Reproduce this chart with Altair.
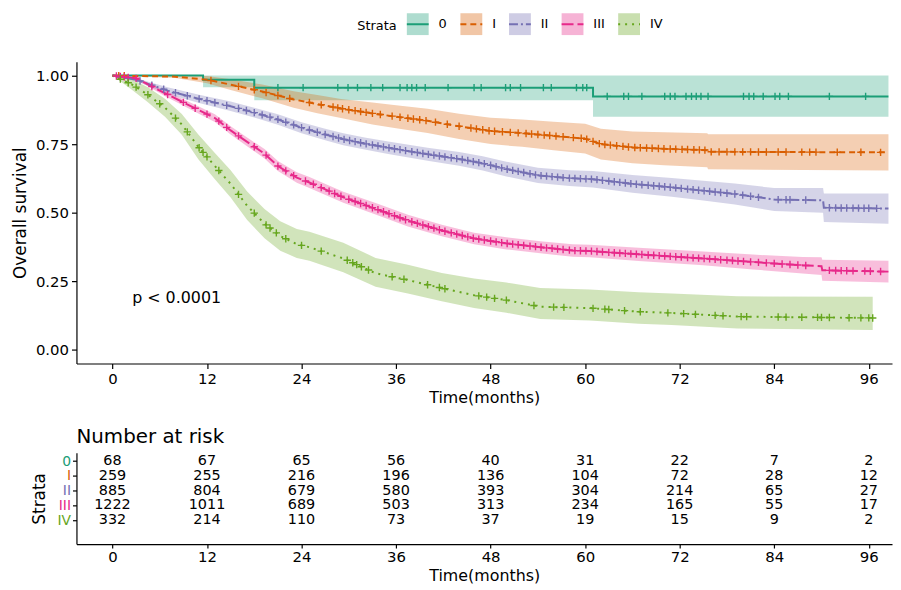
import altair as alt
import pandas as pd
import numpy as np

FONT = "DejaVu Sans"

strata = ["0", "I", "II", "III", "IV"]
colors = ["#1B9E77", "#D95F02", "#7570B3", "#E7298A", "#66A61E"]
dashes = [[1, 0], [6, 4], [9, 3, 2, 3], [12, 4], [2, 5]]

# ---- Kaplan-Meier curves (time in months, survival, lower CI, upper CI) ----
t0 = [0, 11.5, 11.5, 18, 18, 61, 61, 98.5]
s0 = [1, 1, 0.985, 0.985, 0.956, 0.956, 0.924, 0.924]
lo0 = [1, 1, 0.957, 0.957, 0.91, 0.91, 0.85, 0.85]
hi0 = [1, 1, 1, 1, 1, 1, 1, 1]

t1 = [0, 8, 12, 15, 19, 23, 26, 29, 33, 36, 40, 44, 48, 52, 56, 60, 62, 66, 70, 75.5, 75.6, 98.5]
s1 = [1, .996, .985, .967, .942, .913, .896, .88, .862, .85, .835, .815, .798, .79, .78, .77, .75, .738, .733, .728, .722, .72]
lo1 = [1, .991, .972, .947, .917, .883, .863, .845, .822, .808, .791, .769, .750, .740, .728, .716, .694, .680, .673, .666, .658, .654]
hi1 = [1, 1, .998, .987, .967, .943, .929, .915, .902, .892, .879, .861, .846, .840, .832, .824, .806, .796, .793, .790, .786, .786]

t2 = [0, 3, 7, 11, 15, 18, 21, 24, 27, 29.3, 32, 35, 40, 44, 47, 50, 54, 58, 61, 66, 71, 75, 79, 84, 90.2, 90.3, 98.5]
s2 = [1, .985, .945, .915, .888, .865, .84, .81, .785, .768, .752, .737, .713, .696, .68, .659, .636, .626, .622, .605, .592, .58, .568, .548, .545, .518, .515]
lo2 = [1, .980, .933, .900, .871, .847, .821, .790, .764, .746, .730, .714, .689, .671, .654, .632, .608, .597, .592, .573, .558, .544, .530, .506, .500, .466, .460]
hi2 = [1, .990, .957, .930, .905, .883, .859, .830, .806, .790, .774, .760, .737, .721, .706, .686, .664, .655, .652, .637, .626, .616, .606, .590, .590, .570, .570]

t3 = [0, 3, 6.7, 10.9, 13, 15, 17, 19.3, 21, 23.4, 25, 29.3, 33.4, 37.5, 41.8, 45.9, 50, 54.3, 58.4, 60.6, 66.8, 75, 81.3, 87.6, 90, 90.1, 98.5]
s3 = [1, .99, .935, .875, .845, .80, .76, .715, .67, .628, .61, .556, .514, .471, .435, .406, .388, .374, .362, .36, .348, .333, .32, .308, .305, .29, .285]
lo3 = [1, .986, .925, .862, .831, .785, .744, .698, .652, .609, .59, .536, .493, .45, .414, .385, .366, .352, .339, .337, .324, .308, .293, .278, .273, .252, .245]
hi3 = [1, .994, .945, .888, .859, .815, .776, .732, .688, .647, .63, .576, .535, .492, .456, .427, .41, .396, .385, .383, .372, .358, .347, .338, .337, .328, .325]

t4 = [0, 2.5, 4.5, 6.7, 8.8, 10.9, 13, 15, 17.1, 19.3, 21.3, 23.4, 25, 29.3, 33.4, 37.5, 41.8, 45.9, 50, 54.3, 60.6, 66.8, 71, 79.3, 96.5]
s4 = [1, .967, .93, .882, .822, .74, .67, .605, .525, .46, .415, .385, .374, .333, .279, .254, .225, .199, .181, .157, .152, .139, .134, .121, .116]
lo4 = [1, .947, .903, .849, .784, .695, .622, .555, .473, .407, .361, .335, .325, .283, .23, .205, .177, .152, .135, .112, .107, .095, .09, .078, .072]
hi4 = [1, .987, .957, .915, .86, .785, .718, .655, .577, .513, .469, .44, .43, .39, .335, .31, .28, .26, .245, .225, .22, .21, .205, .195, .193]

# ---- censoring times ----
c0 = [21, 24.2, 28.6, 29.9, 31.1, 32.8, 34.3, 36.5, 37.4, 38.0, 38.6, 39.7, 42.6, 45.9, 46.8, 49.9, 50.5,
      51.8, 54.7, 55.7, 58.9, 59.7, 60.2, 62.8, 64.9, 65.5, 67.2, 70.1, 70.8, 71.4, 72.8, 73.5, 74.1, 74.7,
      75.6, 80.1, 80.8, 81.4, 82.6, 84.1, 84.7, 85.8, 91.0, 95.6]
c1 = [0.8, 1.5, 12.5, 16, 18, 19.5, 21, 22.5, 25, 26.5, 28, 28.6, 29.2, 30, 30.8, 31.5, 32.2, 33, 34, 35.5,
      36.5, 37.5, 38.2, 39, 39.8, 41, 42.5, 44, 45.5, 46.2, 47, 47.8, 48.5, 49.5, 50.5, 51.5, 52.5, 53.2, 54,
      54.8, 55.5, 56.3, 57.2, 58.5, 59.5, 60.2, 61, 61.8, 62.5, 63.2, 64, 64.8, 65.5, 66.3, 67, 67.8, 68.5,
      69.3, 70, 70.8, 71.5, 72.3, 73, 73.8, 74.5, 75.2, 76, 77, 78, 79, 80, 81, 82, 83, 84.5, 85.5, 87.5,
      88.5, 89.3, 92, 95, 97.5]
c2 = [1, 2, 3.5, 5, 6.5, 8, 9.5, 11, 12, 13, 14.5, 16, 17, 18, 19, 20, 21, 22, 23, 24, 25, 26, 27, 28, 28.7,
      29.4, 30.1, 30.8, 31.5, 32.2, 33, 33.7, 34.4, 35.1, 35.8, 36.5, 37.2, 38, 38.7, 39.4, 40.1, 40.8, 41.5,
      42.2, 43, 43.7, 44.4, 45.1, 45.8, 46.5, 47.2, 48, 48.7, 49.4, 50.1, 50.8, 51.5, 52.2, 53, 53.7, 54.4,
      55.1, 55.8, 56.5, 57.2, 58, 58.7, 59.4, 60.1, 60.8, 61.5, 62.2, 63, 63.7, 64.4, 65.1, 65.8, 66.5, 67.2,
      68, 68.7, 69.4, 70.1, 70.8, 71.5, 72.2, 73, 73.7, 74.4, 75.1, 75.8, 76.5, 77.2, 78, 79, 80, 81, 82,
      84.5, 85.5, 86, 88, 91, 91.8, 92.5, 93.2, 94, 94.7, 95.4, 96, 97]
c3 = [0.5, 1, 1.5, 2, 3, 5, 7, 9, 10.5, 12, 13.5, 14.5, 16, 18, 19.5, 21, 22, 23, 24.5, 25.5, 26.5, 27.5,
      28.2, 29, 30, 30.8, 31.5, 32.2, 33, 33.7, 34.4, 35.1, 35.8, 36.5, 37.2, 38, 38.7, 39.4, 40.1, 40.8,
      41.5, 42.2, 43, 43.7, 44.4, 45.1, 45.8, 46.5, 47.2, 48, 48.7, 49.4, 50.1, 50.8, 51.5, 52.2, 53, 53.7,
      54.4, 55.1, 55.8, 56.5, 57.2, 58, 58.7, 59.4, 60.1, 60.8, 61.5, 62.2, 63, 63.7, 64.4, 65.1, 65.8, 66.5,
      67.2, 68, 68.7, 69.4, 70.1, 70.8, 71.5, 72.2, 73, 73.7, 74.4, 75.1, 75.8, 76.5, 77.2, 78, 78.7, 79.4,
      80.1, 81, 82, 83, 84, 85, 86, 87, 88, 91, 91.8, 92.5, 93.2, 94, 95.5, 96.2, 97.5]
c4 = [1, 2, 3, 4.5, 6, 8, 9.5, 11, 11.5, 12, 13.5, 16, 18, 19.5, 20, 20.8, 22, 24, 26.5, 29.8, 30.5, 31,
      31.6, 32.5, 35.5, 37, 40, 41.5, 42.2, 46.5, 47.5, 48.5, 50, 53.5, 56, 57.3, 61, 62.5, 63, 65, 67, 70.5,
      72.5, 74, 76.5, 77.5, 79.8, 80.5, 84.5, 85.5, 87.5, 89.5, 90, 91, 93.5, 95, 96, 96.5]

# ---- number at risk ----
risk_times = [0, 12, 24, 36, 48, 60, 72, 84, 96]
risk_0 = [68, 67, 65, 56, 40, 31, 22, 7, 2]
risk_1 = [259, 255, 216, 196, 136, 104, 72, 28, 12]
risk_2 = [885, 804, 679, 580, 393, 304, 214, 65, 27]
risk_3 = [1222, 1011, 689, 503, 313, 234, 165, 55, 17]
risk_4 = [332, 214, 110, 73, 37, 19, 15, 9, 2]

x_ticks = [0, 12, 24, 36, 48, 60, 72, 84, 96]
y_ticks = [0, 0.25, 0.5, 0.75, 1.0]
pval_text = "p < 0.0001"
pval_time = 2.5
pval_surv = 0.19

# ---- build tables ----
curves = [(t0, s0, lo0, hi0), (t1, s1, lo1, hi1), (t2, s2, lo2, hi2), (t3, s3, lo3, hi3), (t4, s4, lo4, hi4)]
censors = [c0, c1, c2, c3, c4]
risks = [risk_0, risk_1, risk_2, risk_3, risk_4]

rows = []
for g, (t, s, lo, hi) in zip(strata, curves):
    for i, (a, b, c, d) in enumerate(zip(t, s, lo, hi)):
        rows.append({"strata": g, "time": a, "surv": b, "lower": c, "upper": d, "idx": i})
curve_df = pd.DataFrame(rows)

crow = []
for g, (t, s, lo, hi), cs in zip(strata, curves, censors):
    for c in cs:
        crow.append({"strata": g, "time": c, "surv": float(np.interp(c, t, s))})
cens_df = pd.DataFrame(crow)

trow = []
for k, (g, r) in enumerate(zip(strata, risks)):
    for tt, n in zip(risk_times, r):
        trow.append({"strata": g, "time": tt, "n": n, "row": len(strata) - k})
table_df = pd.DataFrame(trow)

pval_df = pd.DataFrame({"time": [pval_time], "surv": [pval_surv], "label": [pval_text]})

W = 822
x_scale = alt.Scale(domain=[-4.57, 98.95], nice=False, zero=False)
y_scale = alt.Scale(domain=[-0.05, 1.05], nice=False, zero=False)

legend_common = dict(orient="none", direction="horizontal", legendX=283, legendY=-50,
                     title="Strata", titleOrient="left", titleFontSize=13, titleFontWeight="normal",
                     titleFont=FONT, titlePadding=9, labelFont=FONT, labelFontSize=13,
                     labelOffset=9, columnPadding=9, symbolSize=484, symbolStrokeWidth=2)

x_axis = alt.Axis(values=x_ticks, title="Time(months)", labelFontSize=15, titleFontSize=16,
                  tickSize=5, labelPadding=3, titlePadding=3)
y_axis = alt.Axis(values=y_ticks, format=".2f", title="Overall survival", labelFontSize=15,
                  titleFontSize=17, tickSize=5, labelPadding=3, titlePadding=6)

band = alt.Chart(curve_df).mark_area(opacity=0.3).encode(
    x=alt.X("time:Q", scale=x_scale, axis=x_axis),
    y=alt.Y("lower:Q", scale=y_scale, axis=y_axis),
    y2="upper:Q",
    fill=alt.Fill("strata:N", scale=alt.Scale(range=colors),
                  legend=alt.Legend(symbolType="square", symbolOpacity=0.35, symbolStrokeColor="transparent",
                                    **legend_common)),
)

stroke_scale = alt.Scale(domain=strata, range=colors)
stroke_legend = alt.Legend(symbolType="stroke", labelColor="transparent", titleColor="transparent",
                           **legend_common)

lines = alt.Chart(curve_df).mark_line(strokeWidth=2).encode(
    x=alt.X("time:Q", scale=x_scale),
    y=alt.Y("surv:Q", scale=y_scale),
    stroke=alt.Stroke("strata:N", scale=stroke_scale, legend=stroke_legend),
    strokeDash=alt.StrokeDash("strata:N", scale=alt.Scale(domain=strata, range=dashes), legend=stroke_legend),
    order=alt.Order("idx:Q"),
)

marks = alt.Chart(cens_df).mark_point(shape="M-1,0L1,0M0,-1L0,1", filled=False, size=55,
                                      strokeWidth=1.4, opacity=1).encode(
    x=alt.X("time:Q", scale=x_scale),
    y=alt.Y("surv:Q", scale=y_scale),
    stroke=alt.Stroke("strata:N", scale=stroke_scale, legend=stroke_legend),
)

ptext = alt.Chart(pval_df).mark_text(align="left", baseline="middle", fontSize=16, font=FONT,
                                     color="black").encode(
    x=alt.X("time:Q", scale=x_scale),
    y=alt.Y("surv:Q", scale=y_scale),
    text="label:N",
)

top = alt.layer(band, lines, marks, ptext).properties(width=W, height=304)

label_expr = "['', 'IV', 'III', 'II', 'I', '0'][datum.value]"
color_expr = "['black', '#66A61E', '#E7298A', '#7570B3', '#D95F02', '#1B9E77'][datum.value]"

table = alt.Chart(table_df).mark_text(fontSize=14.5, font=FONT, color="black").encode(
    x=alt.X("time:Q", scale=x_scale,
            axis=alt.Axis(values=x_ticks, title="Time(months)", labelFontSize=15, titleFontSize=16,
                          tickSize=4, labelPadding=2, titlePadding=3)),
    y=alt.Y("row:Q", scale=alt.Scale(domain=[-0.6, 5.56], nice=False, zero=False),
            axis=alt.Axis(values=[1, 2, 3, 4, 5], labelExpr=label_expr, labelColor={"expr": color_expr},
                          labelOverlap=False, title="Strata", labelFontSize=14, titleFontSize=17,
                          tickSize=4, labelPadding=2, titlePadding=8)),
    text="n:Q",
).properties(width=W, height=92,
             title=alt.TitleParams("Number at risk", anchor="start", frame="group", fontSize=20,
                                   fontWeight="normal", font=FONT, offset=6, color="black"))

chart = alt.vconcat(top, table, spacing=22).properties(
    padding={"left": 3, "right": 0, "top": 2, "bottom": 0}
).configure_view(stroke=None).configure_axis(
    grid=False, domainColor="black", tickColor="black", labelColor="black", titleColor="black",
    labelFont=FONT, titleFont=FONT, titleFontWeight="normal", domainWidth=1.2, tickWidth=1.2
)

chart.save("out.html", embed_options={"renderer": "svg", "actions": False})
